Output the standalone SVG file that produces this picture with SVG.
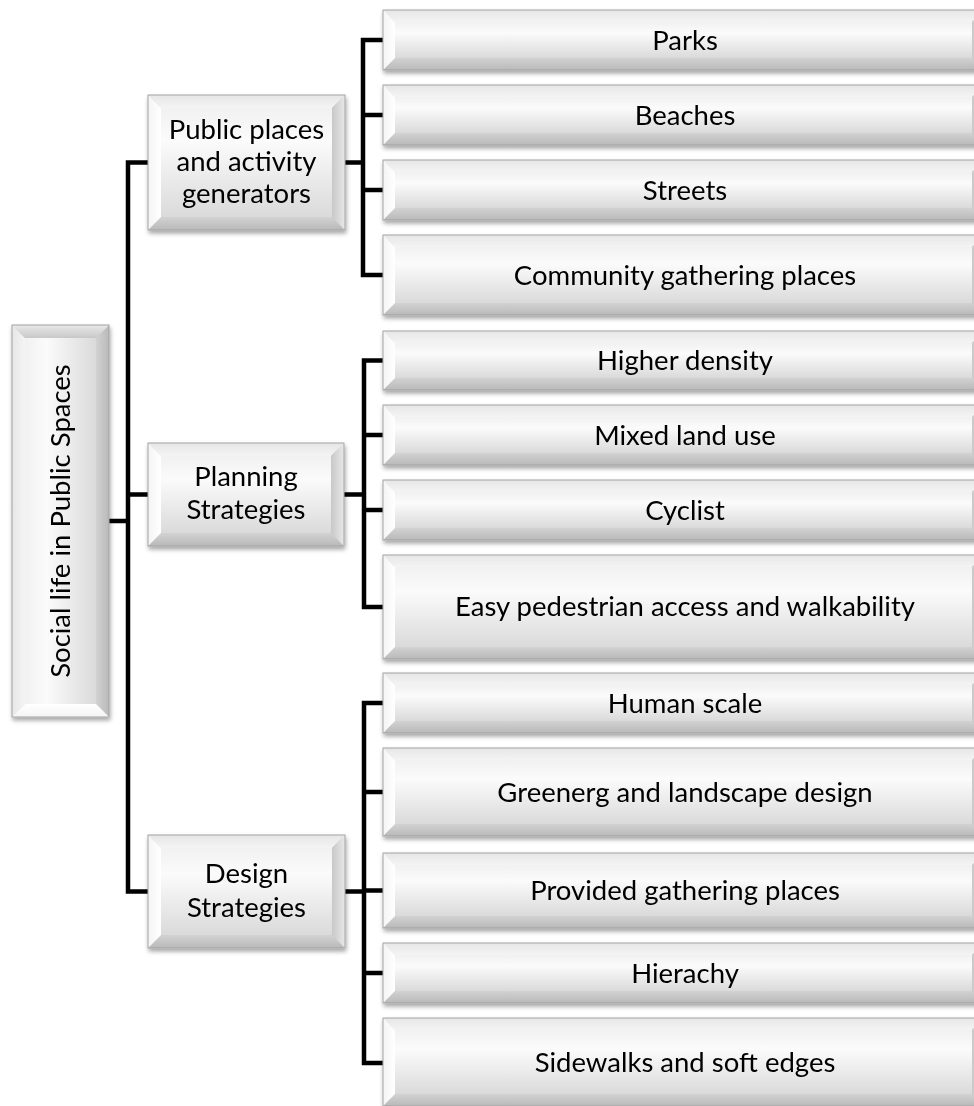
<svg xmlns="http://www.w3.org/2000/svg" width="974" height="1106" viewBox="0 0 974 1106">
<defs>
<filter id="sh" x="-10%" y="-10%" width="120%" height="130%">
<feDropShadow dx="1" dy="3" stdDeviation="2" flood-color="#000" flood-opacity="0.35"/>
</filter>
<linearGradient id="gFace" x1="0" y1="0" x2="0" y2="1">
<stop offset="0" stop-color="#f1f1f1"/><stop offset="0.3" stop-color="#fbfbfb"/><stop offset="1" stop-color="#dadada"/>
</linearGradient>
<linearGradient id="gTop" x1="0" y1="0" x2="0" y2="1">
<stop offset="0" stop-color="#e6e6e6"/><stop offset="1" stop-color="#f4f4f4"/>
</linearGradient>
<linearGradient id="gBot" x1="0" y1="0" x2="0" y2="1">
<stop offset="0" stop-color="#d2d2d2"/><stop offset="1" stop-color="#b9b9b9"/>
</linearGradient>
<linearGradient id="gLeft" x1="0" y1="0" x2="1" y2="0">
<stop offset="0" stop-color="#f4f4f4"/><stop offset="1" stop-color="#ffffff"/>
</linearGradient>
<linearGradient id="gRight" x1="0" y1="0" x2="1" y2="0">
<stop offset="0" stop-color="#c8c8c8"/><stop offset="1" stop-color="#e8e8e8"/>
</linearGradient>
</defs>
<style>
.face{fill:url(#gFace)}
.ft{fill:url(#gTop)}
.fb{fill:url(#gBot)}
.fl{fill:url(#gLeft)}
.fr{fill:url(#gRight)}
.ol{fill:none;stroke:#a3a3a3;stroke-width:1}
.t{font-family:Lato,"Open Sans","Liberation Sans",sans-serif;font-size:27.5px;fill:#000;text-anchor:middle}
.con{fill:none;stroke:#000;stroke-width:4.5;stroke-linejoin:miter;stroke-linecap:butt}
</style>
<rect width="974" height="1106" fill="#fff"/>

<g id="connectors">
<path class="con" d="M109,521 H128 M148,162.5 H128 V891.5 H148 M128,494.5 H148"/>
<path class="con" d="M345,162.5 H363 M383,40 H363 V275 H383 M363,115 H383 M363,190 H383"/>
<path class="con" d="M344,494.5 H364 M383,360.5 H364 V607 H383 M364,435 H383 M364,510 H383"/>
<path class="con" d="M345,891.5 H364 M383,703 H364 V1063 H383 M364,792 H383 M364,890.5 H383 M364,973 H383"/>
</g>

<g id="root" filter="url(#sh)">
<g transform="translate(12,717) rotate(-90)">
<rect class="face" x="13" y="13" width="366" height="71"/>
<polygon class="ft" points="0,0 392,0 379,13 13,13"/>
<polygon class="fb" points="0,97 392,97 379,84 13,84"/>
<polygon class="fl" points="0,0 13,13 13,84 0,97"/>
<polygon class="fr" points="392,0 379,13 379,84 392,97"/>
<rect class="ol" x="0" y="0" width="392" height="97"/>
<text class="t" x="196" y="58.3">Social life in Public Spaces</text>
</g>
</g>

<g id="m1" filter="url(#sh)" transform="translate(148,95)">
<rect class="face" x="13" y="13" width="171" height="109"/>
<polygon class="ft" points="0,0 197,0 184,13 13,13"/>
<polygon class="fb" points="0,135 197,135 184,122 13,122"/>
<polygon class="fl" points="0,0 13,13 13,122 0,135"/>
<polygon class="fr" points="197,0 184,13 184,122 197,135"/>
<rect class="ol" x="0" y="0" width="197" height="135"/>
<text class="t" x="98.5" y="43.5">Public places</text>
<text class="t" x="98.5" y="75.5">and activity</text>
<text class="t" x="98.5" y="107.5">generators</text>
</g>

<g id="m2" filter="url(#sh)" transform="translate(148,443)">
<rect class="face" x="13" y="13" width="170" height="77"/>
<polygon class="ft" points="0,0 196,0 183,13 13,13"/>
<polygon class="fb" points="0,103 196,103 183,90 13,90"/>
<polygon class="fl" points="0,0 13,13 13,90 0,103"/>
<polygon class="fr" points="196,0 183,13 183,90 196,103"/>
<rect class="ol" x="0" y="0" width="196" height="103"/>
<text class="t" x="98" y="42.5">Planning</text>
<text class="t" x="98" y="75.5">Strategies</text>
</g>

<g id="m3" filter="url(#sh)" transform="translate(148,835)">
<rect class="face" x="13" y="13" width="171" height="87"/>
<polygon class="ft" points="0,0 197,0 184,13 13,13"/>
<polygon class="fb" points="0,113 197,113 184,100 13,100"/>
<polygon class="fl" points="0,0 13,13 13,100 0,113"/>
<polygon class="fr" points="197,0 184,13 184,100 197,113"/>
<rect class="ol" x="0" y="0" width="197" height="113"/>
<text class="t" x="98.5" y="48">Design</text>
<text class="t" x="98.5" y="82">Strategies</text>
</g>

<g id="c1" filter="url(#sh)" transform="translate(383,10)">
<rect class="face" x="12" y="12" width="577" height="36"/>
<polygon class="ft" points="0,0 601,0 589,12 12,12"/>
<polygon class="fb" points="0,60 601,60 589,48 12,48"/>
<polygon class="fl" points="0,0 12,12 12,48 0,60"/>
<polygon class="fr" points="601,0 589,12 589,48 601,60"/>
<rect class="ol" x="0" y="0" width="601" height="60"/>
<text class="t" x="302" y="39.5">Parks</text>
</g>

<g id="c2" filter="url(#sh)" transform="translate(383,85)">
<rect class="face" x="12" y="12" width="577" height="36"/>
<polygon class="ft" points="0,0 601,0 589,12 12,12"/>
<polygon class="fb" points="0,60 601,60 589,48 12,48"/>
<polygon class="fl" points="0,0 12,12 12,48 0,60"/>
<polygon class="fr" points="601,0 589,12 589,48 601,60"/>
<rect class="ol" x="0" y="0" width="601" height="60"/>
<text class="t" x="302" y="39.5">Beaches</text>
</g>

<g id="c3" filter="url(#sh)" transform="translate(383,160)">
<rect class="face" x="12" y="12" width="577" height="36"/>
<polygon class="ft" points="0,0 601,0 589,12 12,12"/>
<polygon class="fb" points="0,60 601,60 589,48 12,48"/>
<polygon class="fl" points="0,0 12,12 12,48 0,60"/>
<polygon class="fr" points="601,0 589,12 589,48 601,60"/>
<rect class="ol" x="0" y="0" width="601" height="60"/>
<text class="t" x="302" y="39.5">Streets</text>
</g>

<g id="c4" filter="url(#sh)" transform="translate(383,235)">
<rect class="face" x="12" y="12" width="577" height="56"/>
<polygon class="ft" points="0,0 601,0 589,12 12,12"/>
<polygon class="fb" points="0,80 601,80 589,68 12,68"/>
<polygon class="fl" points="0,0 12,12 12,68 0,80"/>
<polygon class="fr" points="601,0 589,12 589,68 601,80"/>
<rect class="ol" x="0" y="0" width="601" height="80"/>
<text class="t" x="302" y="49.5">Community gathering places</text>
</g>

<g id="c5" filter="url(#sh)" transform="translate(383,331)">
<rect class="face" x="12" y="12" width="577" height="35"/>
<polygon class="ft" points="0,0 601,0 589,12 12,12"/>
<polygon class="fb" points="0,59 601,59 589,47 12,47"/>
<polygon class="fl" points="0,0 12,12 12,47 0,59"/>
<polygon class="fr" points="601,0 589,12 589,47 601,59"/>
<rect class="ol" x="0" y="0" width="601" height="59"/>
<text class="t" x="302" y="39">Higher density</text>
</g>

<g id="c6" filter="url(#sh)" transform="translate(383,405)">
<rect class="face" x="12" y="12" width="577" height="36"/>
<polygon class="ft" points="0,0 601,0 589,12 12,12"/>
<polygon class="fb" points="0,60 601,60 589,48 12,48"/>
<polygon class="fl" points="0,0 12,12 12,48 0,60"/>
<polygon class="fr" points="601,0 589,12 589,48 601,60"/>
<rect class="ol" x="0" y="0" width="601" height="60"/>
<text class="t" x="302" y="39.5">Mixed land use</text>
</g>

<g id="c7" filter="url(#sh)" transform="translate(383,480)">
<rect class="face" x="12" y="12" width="577" height="36"/>
<polygon class="ft" points="0,0 601,0 589,12 12,12"/>
<polygon class="fb" points="0,60 601,60 589,48 12,48"/>
<polygon class="fl" points="0,0 12,12 12,48 0,60"/>
<polygon class="fr" points="601,0 589,12 589,48 601,60"/>
<rect class="ol" x="0" y="0" width="601" height="60"/>
<text class="t" x="302" y="39.5">Cyclist</text>
</g>

<g id="c8" filter="url(#sh)" transform="translate(383,555)">
<rect class="face" x="12" y="12" width="577" height="80"/>
<polygon class="ft" points="0,0 601,0 589,12 12,12"/>
<polygon class="fb" points="0,104 601,104 589,92 12,92"/>
<polygon class="fl" points="0,0 12,12 12,92 0,104"/>
<polygon class="fr" points="601,0 589,12 589,92 601,104"/>
<rect class="ol" x="0" y="0" width="601" height="104"/>
<text class="t" x="302" y="61">Easy pedestrian access and walkability</text>
</g>

<g id="c9" filter="url(#sh)" transform="translate(383,673)">
<rect class="face" x="12" y="12" width="577" height="36"/>
<polygon class="ft" points="0,0 601,0 589,12 12,12"/>
<polygon class="fb" points="0,60 601,60 589,48 12,48"/>
<polygon class="fl" points="0,0 12,12 12,48 0,60"/>
<polygon class="fr" points="601,0 589,12 589,48 601,60"/>
<rect class="ol" x="0" y="0" width="601" height="60"/>
<text class="t" x="302" y="39.5">Human scale</text>
</g>

<g id="c10" filter="url(#sh)" transform="translate(383,748)">
<rect class="face" x="12" y="12" width="577" height="64"/>
<polygon class="ft" points="0,0 601,0 589,12 12,12"/>
<polygon class="fb" points="0,88 601,88 589,76 12,76"/>
<polygon class="fl" points="0,0 12,12 12,76 0,88"/>
<polygon class="fr" points="601,0 589,12 589,76 601,88"/>
<rect class="ol" x="0" y="0" width="601" height="88"/>
<text class="t" x="302" y="53.5">Greenerg and landscape design</text>
</g>

<g id="c11" filter="url(#sh)" transform="translate(383,853)">
<rect class="face" x="12" y="12" width="577" height="51"/>
<polygon class="ft" points="0,0 601,0 589,12 12,12"/>
<polygon class="fb" points="0,75 601,75 589,63 12,63"/>
<polygon class="fl" points="0,0 12,12 12,63 0,75"/>
<polygon class="fr" points="601,0 589,12 589,63 601,75"/>
<rect class="ol" x="0" y="0" width="601" height="75"/>
<text class="t" x="302" y="47">Provided gathering places</text>
</g>

<g id="c12" filter="url(#sh)" transform="translate(383,943)">
<rect class="face" x="12" y="12" width="577" height="36"/>
<polygon class="ft" points="0,0 601,0 589,12 12,12"/>
<polygon class="fb" points="0,60 601,60 589,48 12,48"/>
<polygon class="fl" points="0,0 12,12 12,48 0,60"/>
<polygon class="fr" points="601,0 589,12 589,48 601,60"/>
<rect class="ol" x="0" y="0" width="601" height="60"/>
<text class="t" x="302" y="39.5">Hierachy</text>
</g>

<g id="c13" filter="url(#sh)" transform="translate(383,1018)">
<rect class="face" x="12" y="12" width="577" height="64"/>
<polygon class="ft" points="0,0 601,0 589,12 12,12"/>
<polygon class="fb" points="0,88 601,88 589,76 12,76"/>
<polygon class="fl" points="0,0 12,12 12,76 0,88"/>
<polygon class="fr" points="601,0 589,12 589,76 601,88"/>
<rect class="ol" x="0" y="0" width="601" height="88"/>
<text class="t" x="302" y="53.5">Sidewalks and soft edges</text>
</g>
</svg>
